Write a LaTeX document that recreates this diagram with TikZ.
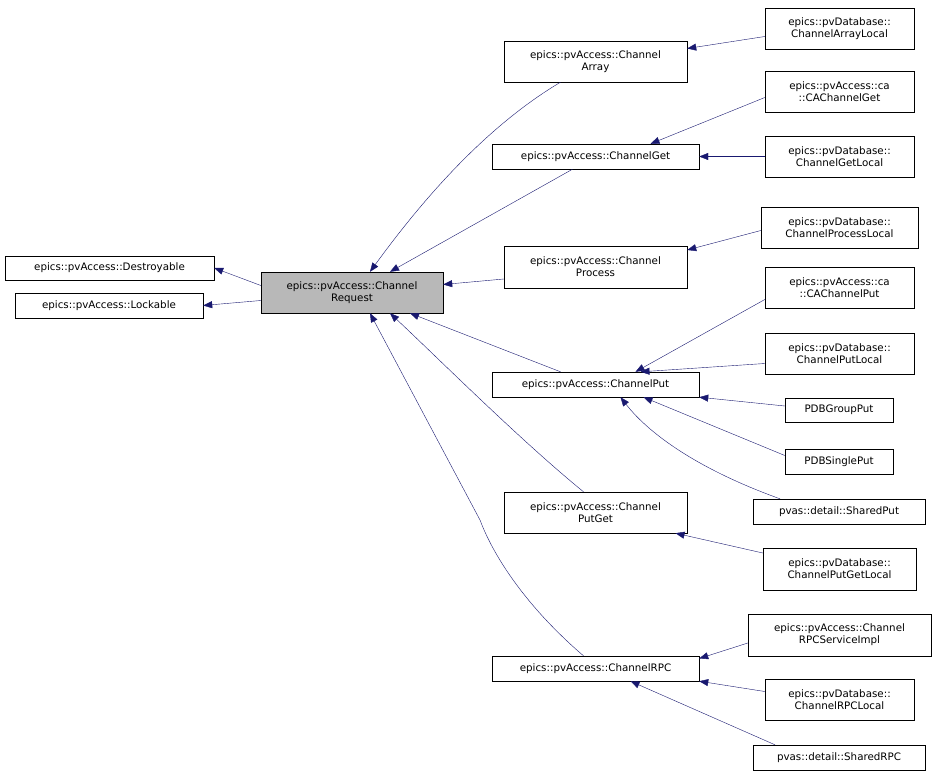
\documentclass[tikz,border=0pt]{standalone}
\usepackage{fontspec}
\setmainfont{DejaVu Sans}
\usetikzlibrary{arrows.meta}
\definecolor{mb}{HTML}{191970}
\begin{document}
\begin{tikzpicture}[x=1pt,y=-1pt,
  box/.style={draw,fill=white,inner sep=0pt,align=center,font=\fontsize{10.3}{12}\selectfont},
  arr/.style={draw=mb,-{Triangle[length=9pt,width=7pt,fill=mb]}}]
\useasboundingbox (0,0) rectangle (936,779);
\newcommand{\bx}[7]{\node[box,minimum width=#4-#2,minimum height=#5-#3,#6] (#1) at ({(#2+#4)/2},{(#3+#5)/2}) {#7};}
\bx{des}{5}{256}{214}{280}{}{epics::pvAccess::Destroyable}
\bx{lock}{15}{293}{203}{318}{}{epics::pvAccess::Lockable}
\bx{req}{261}{272}{443}{313}{fill=black!28}{epics::pvAccess::Channel\\Request}
\bx{arr}{504}{41}{687}{82}{}{epics::pvAccess::Channel\\Array}
\bx{get}{492}{144}{699}{169}{}{epics::pvAccess::ChannelGet}
\bx{proc}{504}{246}{687}{288}{}{epics::pvAccess::Channel\\Process}
\bx{put}{492}{372}{699}{397}{}{epics::pvAccess::ChannelPut}
\bx{pg}{504}{492}{687}{533}{}{epics::pvAccess::Channel\\PutGet}
\bx{rpc}{492}{656}{699}{681}{}{epics::pvAccess::ChannelRPC}
\bx{arl}{765}{8}{914}{49}{}{epics::pvDatabase::\\ChannelArrayLocal}
\bx{cag}{765}{71}{914}{112}{}{epics::pvAccess::ca\\::CAChannelGet}
\bx{gl}{765}{136}{914}{177}{}{epics::pvDatabase::\\ChannelGetLocal}
\bx{pl}{761}{207}{918}{248}{}{epics::pvDatabase::\\ChannelProcessLocal}
\bx{cap}{765}{267}{914}{308}{}{epics::pvAccess::ca\\::CAChannelPut}
\bx{putl}{765}{333}{914}{374}{}{epics::pvDatabase::\\ChannelPutLocal}
\bx{gp}{785}{398}{893}{422}{}{PDBGroupPut}
\bx{sp}{785}{449}{893}{474}{}{PDBSinglePut}
\bx{shp}{753}{499}{925}{524}{}{pvas::detail::SharedPut}
\bx{pgl}{763}{548}{916}{590}{}{epics::pvDatabase::\\ChannelPutGetLocal}
\bx{rsi}{748}{614}{931}{656}{}{epics::pvAccess::Channel\\RPCServiceImpl}
\bx{rl}{765}{679}{914}{720}{}{epics::pvDatabase::\\ChannelRPCLocal}
\bx{shr}{753}{745}{925}{770}{}{pvas::detail::SharedRPC}
% edges
\draw[arr] ([yshift=7]req.west) -- (des.east);
\draw[arr] ([yshift=-8]req.west) -- (lock.east);
\draw[arr] ([xshift=-35]arr.south) .. controls (480,130) and (415,210) .. ([xshift=18]req.north);
\draw[arr] ([xshift=-23]get.south) -- ([xshift=38]req.north);
\draw[arr] ([yshift=-12]proc.west) -- ([yshift=8]req.east);
\draw[arr] ([xshift=-35]put.north) -- ([xshift=58]req.south);
\draw[arr] ([xshift=-12]pg.north) .. controls (520,440) and (440,360) .. ([xshift=38]req.south);
\draw[arr] ([xshift=-12]rpc.north) .. controls (530,610) and (495,560) .. (480,520) -- ([xshift=18]req.south);
\draw[arr] ([yshift=-8]arl.west) -- ([yshift=13]arr.east);
\draw[arr] ([yshift=-6]cag.west) -- ([xshift=55]get.north);
\draw[arr] (gl.west) -- (get.east);
\draw[arr] ([yshift=-3]pl.west) -- ([yshift=17]proc.east);
\draw[arr] ([yshift=-12]cap.west) -- ([xshift=40]put.north);
\draw[arr] ([yshift=-10]putl.west) -- ([xshift=45]put.north);
\draw[arr] ([yshift=4]gp.west) -- (put.east|-put.south);
\draw[arr] ([yshift=6]sp.west) -- ([xshift=48]put.south);
\draw[arr] ([xshift=-59]shp.north) .. controls (700,470) and (650,435) .. ([xshift=25]put.south);
\draw[arr] ([yshift=16]pgl.west) -- ([xshift=80]pg.south);
\draw[arr] ([yshift=-8]rsi.west) -- ([yshift=10]rpc.east);
\draw[arr] ([yshift=8]rl.west) -- (rpc.east|-rpc.south);
\draw[arr] ([xshift=-64]shr.north) -- ([xshift=35]rpc.south);
\end{tikzpicture}
\end{document}
